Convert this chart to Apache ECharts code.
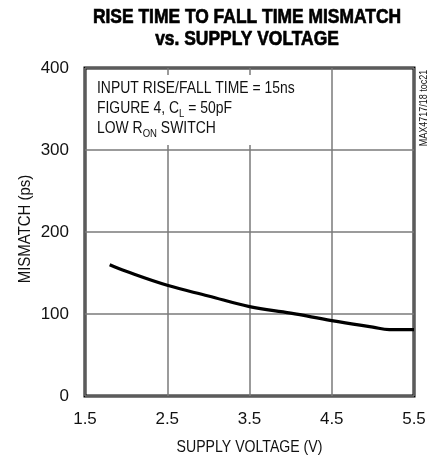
<!DOCTYPE html>
<html><head><meta charset="utf-8">
<script src="https://cdn.jsdelivr.net/npm/echarts@6/dist/echarts.min.js"></script>
<style>html,body{margin:0;padding:0;background:#fff}#c{width:438px;height:457px}</style>
</head><body><div id="c"></div>
<script>
const voltage = [1.8, 2.0, 2.5, 3.0, 3.5, 4.0, 4.5, 5.0, 5.2, 5.5];
const mismatch = [160, 152, 135, 122, 109, 101, 92, 84, 81, 81];
const xTicks = [1.5, 2.5, 3.5, 4.5, 5.5];
const yTicks = [0, 100, 200, 300, 400];
const titleLines = ['RISE TIME TO FALL TIME MISMATCH', 'vs. SUPPLY VOLTAGE'];
const xName = 'SUPPLY VOLTAGE (V)';
const yName = 'MISMATCH (ps)';
const F = '"Liberation Sans", Arial, sans-serif';

const chart = echarts.init(document.getElementById('c'));
chart.setOption({
  animation: false,
  grid: {left: 85, right: 24, top: 68, bottom: 61, show: true, borderColor: '#000', borderWidth: 3, containLabel: false},
  xAxis: {
    type: 'value', min: xTicks[0], max: xTicks[xTicks.length-1], interval: 1,
    axisLine: {show: false}, axisTick: {show: false},
    axisLabel: {fontFamily: F, fontSize: 17, color: '#111', margin: 15, formatter: v => v.toFixed(1)},
    splitLine: {show: true, lineStyle: {color: '#7a7a7a', width: 1.5}}
  },
  yAxis: {
    type: 'value', min: yTicks[0], max: yTicks[yTicks.length-1], interval: 100,
    axisLine: {show: false}, axisTick: {show: false},
    axisLabel: {fontFamily: F, fontSize: 17, color: '#111', margin: 16},
    splitLine: {show: true, lineStyle: {color: '#7a7a7a', width: 1.5}}
  },
  series: [{
    type: 'line', data: voltage.map((v, i) => [v, mismatch[i]]), smooth: 0.4,
    symbol: 'none', lineStyle: {color: '#000', width: 3.2}
  }],
  graphic: [
    {type: 'text', x: 247, y: 6, scaleX: 0.83, z: 11, style: {
      text: titleLines.join('\n'), font: 'bold 21px ' + F, fill: '#000', stroke: '#000', lineWidth: 0.7,
      align: 'center', verticalAlign: 'top', lineHeight: 22
    }},
    {type: 'rect', left: 88, top: 75, shape: {width: 212, height: 70}, style: {fill: '#fff'}, z: 10},
    {type: 'text', x: 97, y: 79, scaleX: 0.87, z: 11, style: {
      text: 'INPUT RISE/FALL TIME = 15ns\nFIGURE 4, C{s|L} = 50pF\nLOW R{s|ON} SWITCH',
      font: '16px ' + F, fill: '#111', lineHeight: 20,
      rich: {s: {font: '11px ' + F, fill: '#111', verticalAlign: 'bottom', padding: [7, 0, 0, 0]}}
    }},
    {type: 'text', x: 424, y: 108, rotation: Math.PI / 2, scaleX: 0.9, z: 11, style: {
      text: 'MAX4717/18 toc21', font: '10px ' + F, fill: '#111', align: 'center', verticalAlign: 'middle'
    }},
    {type: 'text', x: 249.5, y: 447, scaleX: 0.83, z: 11, style: {
      text: xName, font: '17px ' + F, fill: '#111', align: 'center', verticalAlign: 'middle'
    }},
    {type: 'text', x: 25, y: 229, rotation: Math.PI / 2, scaleX: 0.88, z: 11, style: {
      text: yName, font: '17px ' + F, fill: '#111', align: 'center', verticalAlign: 'middle'
    }}
  ]
});
</script></body></html>
